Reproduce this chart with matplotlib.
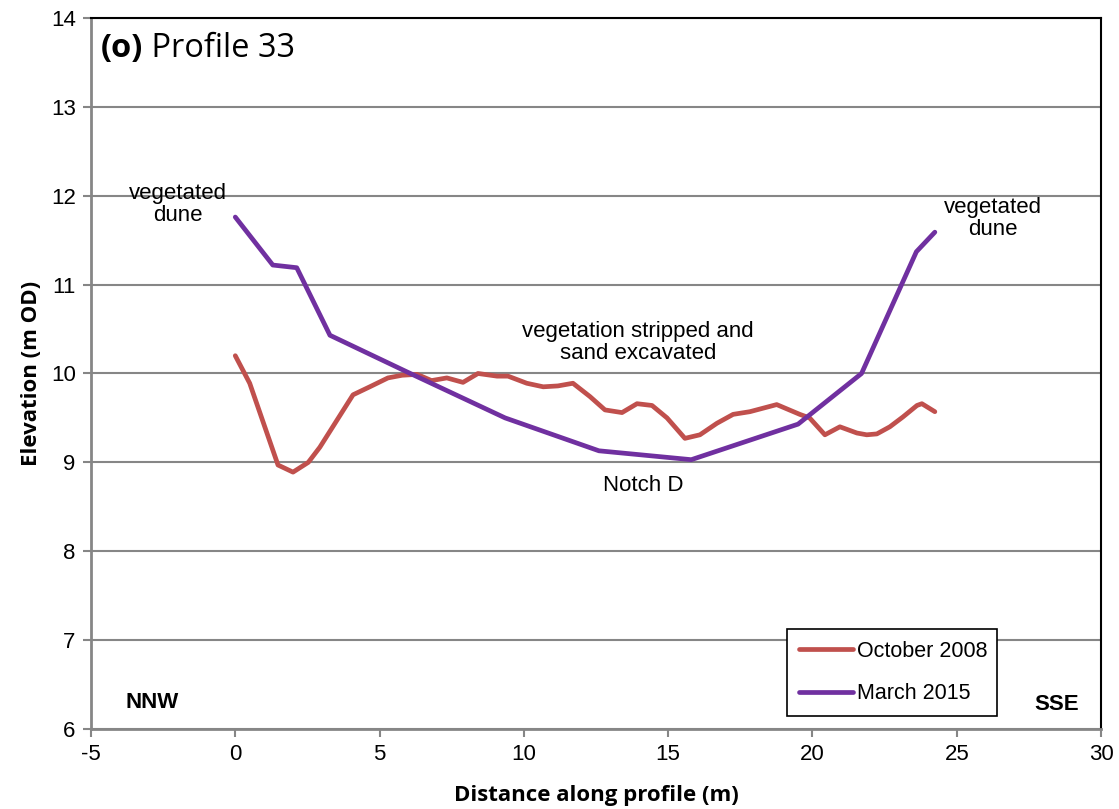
import matplotlib.pyplot as plt

plt.rcParams['axes.unicode_minus'] = False

# October 2008 survey
oct_dist = [0.0, 0.5, 1.48, 2.0, 2.53, 2.93, 4.08, 4.66, 5.29, 5.78, 6.3, 6.8, 7.33,
            7.89, 8.41, 9.07, 9.45, 10.1, 10.67, 11.18, 11.7, 12.29, 12.81, 13.4,
            13.92, 14.44, 14.96, 15.58, 16.1, 16.69, 17.25, 17.83, 18.76, 19.56,
            19.9, 20.43, 20.95, 21.54, 21.88, 22.23, 22.68, 23.13, 23.62, 23.79, 24.24]
oct_elev = [10.2, 9.89, 8.97, 8.89, 9.0, 9.17, 9.76, 9.85, 9.95, 9.98, 9.99, 9.92, 9.95,
            9.9, 10.0, 9.97, 9.97, 9.89, 9.85, 9.86, 9.89, 9.74, 9.59, 9.56,
            9.66, 9.64, 9.5, 9.27, 9.31, 9.44, 9.54, 9.57, 9.65, 9.54,
            9.5, 9.31, 9.4, 9.33, 9.31, 9.32, 9.4, 9.51, 9.64, 9.66, 9.57]

# March 2015 survey
mar_dist = [0.0, 1.3, 2.13, 3.28, 6.0, 9.35, 12.6, 15.8, 19.5, 21.7, 23.6, 24.24]
mar_elev = [11.76, 11.22, 11.19, 10.43, 10.01, 9.5, 9.13, 9.03, 9.43, 10.0, 11.37, 11.59]

red = '#C0504D'
purple = '#7030A0'
grid_grey = '#868686'
arial = 'Liberation Sans'

fig = plt.figure(figsize=(11.19, 8.09), dpi=100)
ax = fig.add_axes([0.0813, 0.0989, 0.9027, 0.8789])

ax.plot(oct_dist, oct_elev, color=red, lw=3.4, solid_capstyle='round',
        solid_joinstyle='round', label='October 2008', zorder=3)
ax.plot(mar_dist, mar_elev, color=purple, lw=3.4, solid_capstyle='round',
        solid_joinstyle='round', label='March 2015', zorder=3)

ax.set_xlim(-5, 30)
ax.set_ylim(6, 14)
ax.set_xticks(range(-5, 31, 5))
ax.set_yticks(range(6, 15))
ax.grid(axis='y', color=grid_grey, lw=1.5)
ax.set_axisbelow(True)

ax.tick_params(direction='out', length=6, width=1.5, color=grid_grey,
               labelsize=16)
ax.tick_params(axis='x', pad=5)
ax.tick_params(axis='y', pad=5)
for lab in ax.get_xticklabels() + ax.get_yticklabels():
    lab.set_family(arial)

for side in ['left', 'bottom']:
    ax.spines[side].set_color(grid_grey)
    ax.spines[side].set_linewidth(2)
for side in ['top', 'right']:
    ax.spines[side].set_color('black')
    ax.spines[side].set_linewidth(1.5)

ax.set_xlabel('Distance along profile (m)', fontsize=16, fontweight='bold',
              family='Open Sans', labelpad=14)
ax.set_ylabel('Elevation (m OD)', fontsize=16, fontweight='bold',
              family='Open Sans', labelpad=6)

# panel title: bold letter, then the profile name right after it
tag = ax.text(-4.65, 13.66, '(o)', fontsize=23.5, family='Open Sans',
              fontweight='bold', va='center', ha='left')
ax.annotate(' Profile 33', xy=(1, 0.5), xycoords=tag, fontsize=23.5,
            family='Open Sans', va='center', ha='left')

ann = dict(fontsize=16, family=arial, ha='center', va='center',
           linespacing=1.05)
ax.text(-1.98, 11.9, 'vegetated\ndune', **ann)
ax.text(26.26, 11.74, 'vegetated\ndune', **ann)
ax.text(13.96, 10.35, 'vegetation stripped and\nsand excavated', **ann)
ax.text(14.12, 8.74, 'Notch D', **ann)
ax.text(-2.88, 6.3, 'NNW', fontsize=16, family=arial,
        fontweight='bold', ha='center', va='center')
ax.text(28.45, 6.27, 'SSE', fontsize=16, family=arial,
        fontweight='bold', ha='center', va='center')

leg = ax.legend(loc='lower left', bbox_to_anchor=(0.689, 0.018, 0.208, 0.127),
                mode='expand', fancybox=False, framealpha=1, edgecolor='black',
                prop={'family': arial, 'size': 15.5},
                handlelength=2.5, handletextpad=0.2, labelspacing=1.0,
                borderpad=0.55, borderaxespad=0)
leg.get_frame().set_linewidth(1.2)

fig.savefig('out.png', dpi=100)
